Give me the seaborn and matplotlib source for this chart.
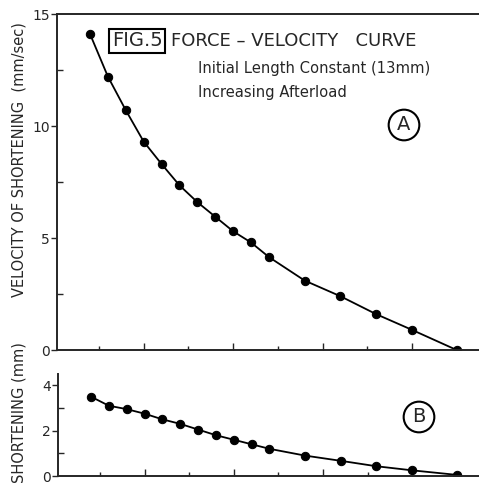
import matplotlib
matplotlib.use("Agg")
import matplotlib.pyplot as plt
import seaborn as sns
import pandas as pd
from matplotlib.ticker import MultipleLocator

# Afterload (arbitrary units) and measured values
afterload = [0.4, 0.6, 0.8, 1.0, 1.2, 1.4, 1.6, 1.8, 2.0, 2.2, 2.4, 2.8, 3.2, 3.6, 4.0, 4.5]
velocity = [14.1, 12.2, 10.7, 9.3, 8.3, 7.35, 6.6, 5.95, 5.3, 4.8, 4.15, 3.1, 2.4, 1.6, 0.9, 0.0]
shortening = [3.5, 3.1, 2.95, 2.75, 2.5, 2.3, 2.05, 1.8, 1.6, 1.4, 1.2, 0.9, 0.67, 0.43, 0.25, 0.05]

y_ticks_top = [0, 5, 10, 15]
y_ticks_bottom = [0, 2, 4]

df = pd.DataFrame({"afterload": afterload, "velocity": velocity, "shortening": shortening})

sns.set_style("ticks")
plt.rcParams['font.family'] = ['DejaVu Sans']

W, H = 479, 487
fig = plt.figure(figsize=(W / 100, H / 100), dpi=100)

def fx(px):
    return px / W

def fy(py):
    return 1 - py / H

ax1 = fig.add_axes([fx(57), fy(350), fx(479) - fx(57), fy(14) - fy(350)])
ax2 = fig.add_axes([fx(58), fy(476), fx(479) - fx(58), fy(374) - fy(476)])

line_kw = dict(color="black", linewidth=1.3, marker="o", markersize=6,
               markeredgecolor="black", markerfacecolor="black")
sns.lineplot(data=df, x="afterload", y="velocity", ax=ax1, **line_kw)
sns.lineplot(data=df, x="afterload", y="shortening", ax=ax2, **line_kw)

for ax in (ax1, ax2):
    ax.set_xlim(0.03, 4.75)
    ax.xaxis.set_major_locator(MultipleLocator(1))
    ax.xaxis.set_minor_locator(MultipleLocator(0.5))
    ax.set_xticklabels([])
    ax.tick_params(axis="x", which="major", direction="in", length=5, width=1)
    ax.tick_params(axis="x", which="minor", direction="in", length=3, width=1)
    ax.tick_params(axis="y", which="major", direction="out", length=4, width=1,
                   labelsize=10, pad=1)
    ax.tick_params(axis="y", which="minor", direction="in", length=4, width=1)
    ax.set_xlabel("")
    ax.set_ylabel("")
    ax.spines["right"].set_visible(False)
    for s in ("left", "bottom", "top"):
        ax.spines[s].set_linewidth(1.4)

ax1.set_ylim(0, 15)
ax1.set_yticks(y_ticks_top)
ax1.yaxis.set_minor_locator(MultipleLocator(2.5))

ax2.set_ylim(0, 4.5)
ax2.set_yticks(y_ticks_bottom)
ax2.yaxis.set_minor_locator(MultipleLocator(1))
ax2.spines["top"].set_visible(False)

# Axis labels
fig.text(fx(19), fy(160), "VELOCITY OF SHORTENING  (mm/sec)", rotation=90,
         ha="center", va="center", fontsize=10.5)
fig.text(fx(19), fy(413), "SHORTENING (mm)", rotation=90,
         ha="center", va="center", fontsize=10.5)

# Annotations
fig.text(fx(137), fy(41), "FIG.5", ha="center", va="center", fontsize=14,
         bbox=dict(boxstyle="square,pad=0.15", fc="white", ec="black", lw=1.5))
fig.text(fx(171), fy(41), "FORCE \u2013 VELOCITY   CURVE", ha="left", va="center", fontsize=13)
fig.text(fx(198), fy(68), "Initial Length Constant (13mm)", ha="left", va="center", fontsize=10.6)
fig.text(fx(198), fy(93), "Increasing Afterload", ha="left", va="center", fontsize=10.6)
fig.text(fx(404), fy(125), "A", ha="center", va="center", fontsize=14,
         bbox=dict(boxstyle="circle,pad=0.3", fc="white", ec="black", lw=1.5))
fig.text(fx(419), fy(417), "B", ha="center", va="center", fontsize=14,
         bbox=dict(boxstyle="circle,pad=0.3", fc="white", ec="black", lw=1.5))

fig.savefig("out.png", dpi=100, facecolor="white")
